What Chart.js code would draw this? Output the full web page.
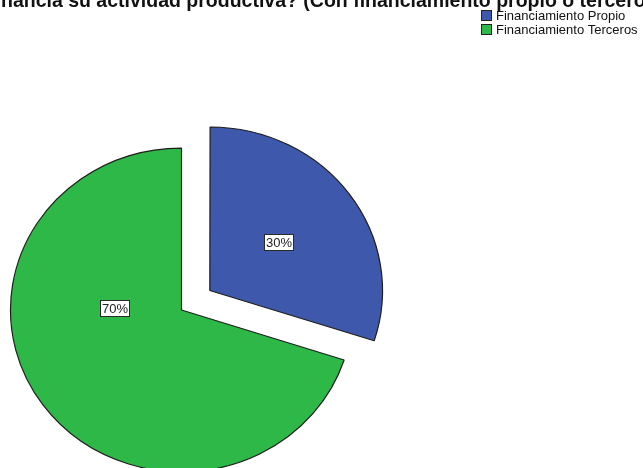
<!DOCTYPE html>
<html>
<head>
<meta charset="utf-8">
<script src="https://cdn.jsdelivr.net/npm/chart.js@4.4.1/dist/chart.umd.min.js"></script>
<style>
  html, body { margin: 0; padding: 0; background: #fff; }
</style>
</head>
<body>
<canvas id="pie" width="643" height="468"></canvas>
<script>
const chartTitle = '¿Cómo financia su actividad productiva? (Con financiamiento propio o terceros)';
const categories = ['Financiamiento Propio', 'Financiamiento Terceros'];
const percentages = [30, 70];

const sliceColors = ['#3E58AC', '#2EB848'];
const sliceOffsets = [140, 0];          // ArcElement shifts a slice by offset / 4
const labelPlacement = [[-1, 0.50], [37.4, 0.39]]; // [deg from slice middle, share of radius]
const squash = 0.947;                   // pie is a little flatter than it is wide

const FONT = '"Liberation Sans", Arial, sans-serif';

function pieCenter(chart) {
  const a = chart.chartArea;
  return { x: (a.left + a.right) / 2, y: (a.top + a.bottom) / 2 };
}

const squashPie = {
  id: 'squashPie',
  beforeDatasetsDraw(chart) {
    const c = pieCenter(chart);
    const ctx = chart.ctx;
    ctx.save();
    ctx.translate(c.x, c.y);
    ctx.scale(1, squash);
    ctx.translate(-c.x, -c.y);
  },
  afterDatasetsDraw(chart) {
    chart.ctx.restore();
  }
};

const extras = {
  id: 'extras',
  afterDraw(chart) {
    const ctx = chart.ctx;
    const c = pieCenter(chart);
    const total = percentages.reduce((s, v) => s + v, 0);

    // percentage boxes
    chart.getDatasetMeta(0).data.forEach((arc, i) => {
      const p = arc.getProps(['x', 'y', 'startAngle', 'endAngle', 'outerRadius'], true);
      const mid = (p.startAngle + p.endAngle) / 2;
      const shift = (arc.options.offset || 0) / 4;
      const ang = mid + labelPlacement[i][0] * Math.PI / 180;
      const r = p.outerRadius * labelPlacement[i][1];
      const ux = p.x + Math.cos(mid) * shift + Math.cos(ang) * r;
      const uy = p.y + Math.sin(mid) * shift + Math.sin(ang) * r;
      const lx = ux;
      const ly = c.y + (uy - c.y) * squash;

      const text = Math.round(percentages[i] / total * 100) + '%';
      ctx.save();
      ctx.font = '13px ' + FONT;
      const w = Math.round(ctx.measureText(text).width + 3);
      const h = 16;
      const bx = Math.round(lx - w / 2), by = Math.round(ly - h / 2);
      ctx.fillStyle = '#fff';
      ctx.fillRect(bx, by, w, h);
      ctx.strokeStyle = '#2a2a2a';
      ctx.lineWidth = 1;
      ctx.strokeRect(bx + 0.5, by + 0.5, w, h);
      ctx.fillStyle = '#222';
      ctx.textAlign = 'center';
      ctx.textBaseline = 'middle';
      ctx.fillText(text, bx + w / 2 + 0.5, by + h / 2 + 1);
      ctx.restore();
    });

    // title, wider than the canvas
    ctx.save();
    ctx.font = 'bold 19.5px ' + FONT;
    ctx.fillStyle = '#111';
    ctx.textBaseline = 'alphabetic';
    ctx.textAlign = 'left';
    const lead = ctx.measureText('¿Cómo fi').width;
    ctx.fillText(chartTitle, 1 - lead, 7);
    ctx.restore();

    // legend
    ctx.save();
    ctx.font = '13px ' + FONT;
    ctx.textBaseline = 'middle';
    ctx.textAlign = 'left';
    categories.forEach((name, i) => {
      const y = 10 + i * 14;
      ctx.fillStyle = sliceColors[i];
      ctx.fillRect(481, y, 11, 11);
      ctx.strokeStyle = '#222';
      ctx.lineWidth = 1;
      ctx.strokeRect(481.5, y + 0.5, 10, 10);
      ctx.fillStyle = '#111';
      ctx.fillText(name, 496, y + 6);
    });
    ctx.restore();
  }
};

new Chart(document.getElementById('pie'), {
  type: 'pie',
  data: {
    labels: categories,
    datasets: [{
      data: percentages,
      backgroundColor: sliceColors,
      borderColor: '#1e1e1e',
      borderWidth: 1.2,
      offset: sliceOffsets,
      clip: false
    }]
  },
  options: {
    responsive: false,
    animation: false,
    radius: 171,
    layout: { padding: { left: 0, right: 280, top: 152, bottom: 0 } },
    plugins: {
      legend: { display: false },
      title: { display: false },
      tooltip: { enabled: false }
    }
  },
  plugins: [squashPie, extras]
});
</script>
</body>
</html>
